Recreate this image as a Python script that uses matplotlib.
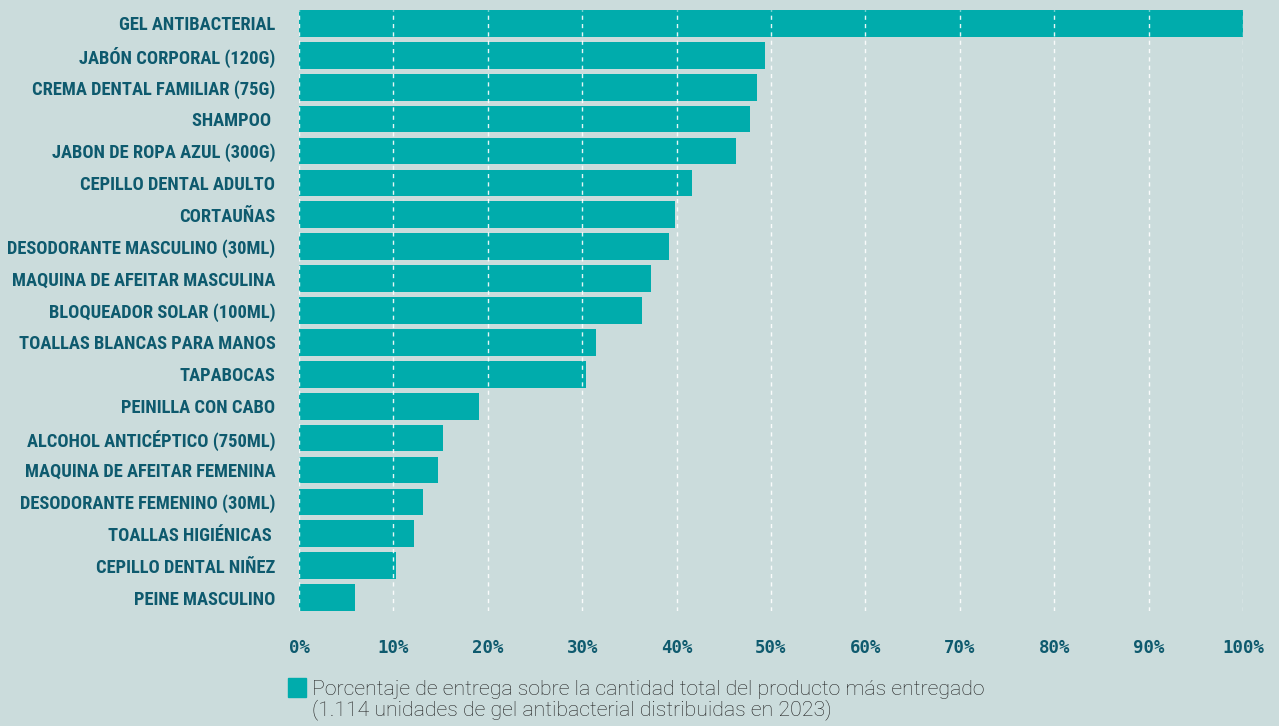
import matplotlib.pyplot as plt
from matplotlib import font_manager as fm
from matplotlib.patches import Rectangle

productos = ['GEL ANTIBACTERIAL', 'JABÓN CORPORAL (120G)', 'CREMA DENTAL FAMILIAR (75G)',
             'SHAMPOO ', 'JABON DE ROPA AZUL (300G)', 'CEPILLO DENTAL ADULTO', 'CORTAUÑAS',
             'DESODORANTE MASCULINO (30ML)', 'MAQUINA DE AFEITAR MASCULINA',
             'BLOQUEADOR SOLAR (100ML)', 'TOALLAS BLANCAS PARA MANOS', 'TAPABOCAS',
             'PEINILLA CON CABO', 'ALCOHOL ANTICÉPTICO (750ML)', 'MAQUINA DE AFEITAR FEMENINA',
             'DESODORANTE FEMENINO (30ML)', 'TOALLAS HIGIÉNICAS ', 'CEPILLO DENTAL NIÑEZ',
             'PEINE MASCULINO']
porcentaje = [100, 49.4, 48.5, 47.8, 46.3, 41.6, 39.8, 39.2, 37.3, 36.3,
              31.5, 30.4, 19.1, 15.3, 14.7, 13.1, 12.2, 10.3, 5.9]
ticks = [0, 10, 20, 30, 40, 50, 60, 70, 80, 90, 100]
leyenda = ('Porcentaje de entrega sobre la cantidad total del producto más entregado\n'
           '(1.114 unidades de gel antibacterial distribuidas en 2023)')

fondo = '#cbdcdc'
barra = '#00acac'
texto = '#0e5a6e'

# buscar una fuente estrecha
nombres = {f.name for f in fm.fontManager.ttflist}
fuente, talla = 'Roboto', 11.9
for nombre in ['Roboto Condensed', 'Liberation Sans Narrow', 'Open Sans Condensed',
               'Noto Sans Condensed', 'DejaVu Sans Condensed']:
    if nombre in nombres:
        fuente, talla = nombre, 13.3
        break

fig = plt.figure(figsize=(12.79, 7.26), dpi=100, facecolor=fondo)
ax = fig.add_axes([299 / 1279, 1 - 611 / 726, 944 / 1279, 601 / 726])
ax.set_facecolor(fondo)

y = list(range(len(productos)))
ax.barh(y, porcentaje, height=0.84, color=barra, zorder=1)
ax.set_ylim(len(productos) - 1 + 0.42, -0.42)
ax.set_xlim(0, 100)

ax.set_yticks(y)
ax.set_yticklabels(productos, fontfamily=fuente, fontweight='bold', fontsize=talla, color=texto)
ax.set_xticks(ticks)
ax.set_xticklabels([f'{t}%' for t in ticks], fontfamily='DejaVu Sans Mono', fontweight='bold',
                   fontsize=12.5, color=texto)
ax.tick_params(axis='y', length=0, pad=17)
ax.tick_params(axis='x', length=0, pad=20.5)

ax.set_axisbelow(False)
ax.grid(axis='x', color='white', linestyle=(0, (3, 3)), linewidth=1, alpha=0.9)
ax.grid(axis='y', visible=False)
for s in ax.spines.values():
    s.set_visible(False)

fig.patches.append(Rectangle((288 / 1279, 1 - 697 / 726), 18 / 1279, 19 / 726,
                             transform=fig.transFigure, color=barra))
fig.text(312 / 1279, 1 - 700 / 726, leyenda, fontfamily='Roboto', fontweight='light',
         fontsize=15.3, color='#222222', va='center', ha='left', linespacing=1.0)

fig.savefig('out.png', dpi=100, facecolor=fondo)
